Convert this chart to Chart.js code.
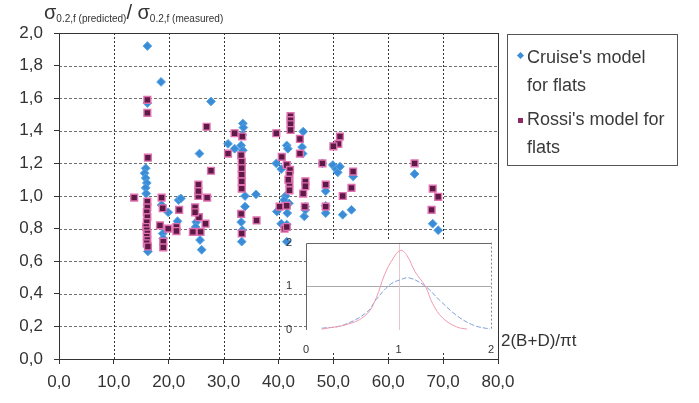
<!DOCTYPE html>
<html><head><meta charset="utf-8">
<script src="https://cdn.jsdelivr.net/npm/chart.js@4.4.0/dist/chart.umd.min.js"></script>
<style>
html,body{margin:0;padding:0;background:#fff;}
#wrap{position:relative;width:699px;height:403px;overflow:hidden;font-family:"Liberation Sans",Arial,sans-serif;color:#333;}
#main{position:absolute;left:0;top:0;}
#inset{position:absolute;left:280px;top:230px;}
#ytitle{position:absolute;left:44px;top:1px;font-size:20px;white-space:nowrap;color:#333;}
#ytitle sub{font-size:10px;vertical-align:-3px;}
#xtitle{position:absolute;left:501px;top:331px;font-size:17px;white-space:nowrap;color:#333;font-family:"Liberation Sans Narrow","Liberation Sans",Arial,sans-serif;}
#legend{position:absolute;left:507px;top:34px;width:171px;height:132px;border:1px solid #555;box-sizing:border-box;}
.lt{position:absolute;left:19px;font-size:18px;line-height:28px;white-space:nowrap;color:#3a3a3a;}
.mk{position:absolute;}
</style></head>
<body>
<div id="wrap">
<canvas id="main" width="699" height="403"></canvas>
<canvas id="inset" width="220" height="125"></canvas>
<div id="ytitle">σ<sub>0.2,f (predicted)</sub>/ σ<sub>0.2,f (measured)</sub></div>
<div id="xtitle">2(B+D)/πt</div>
<div id="legend">
  <div class="mk" style="left:10px;top:18px;width:5px;height:5px;background:#3b8ed6;transform:rotate(45deg);"></div>
  <div class="lt" style="top:8px;">Cruise's model<br>for flats</div>
  <div class="mk" style="left:10px;top:83px;width:5px;height:5px;background:#8a2a60;"></div>
  <div class="lt" style="top:70px;">Rossi's model for<br>flats</div>
</div>
</div>
<script>
// ---- data ----
const xTicks = [0,10,20,30,40,50,60,70,80];
const yTicks = [0,0.2,0.4,0.6,0.8,1.0,1.2,1.4,1.6,1.8,2.0];
const seriesNames = ["Cruise's model for flats", "Rossi's model for flats"];

const cruiseX = [16.1,18.6,16.1,15.8,15.6,15.8,16.0,15.8,15.9,16.1,16.2,
  18.7,19.9,18.9,19.0,21.8,21.6,22.2,
  25.0,24.9,25.7,26.0,25.6,27.7,
  30.8,32.0,33.2,33.5,33.6,33.4,33.5,33.9,33.9,33.2,33.3,33.4,35.9,
  39.6,40.5,41.5,41.7,41.3,39.7,41.0,41.9,41.6,40.5,41.5,41.5,44.5,44.3,44.4,44.9,44.7,44.9,
  48.0,49.9,50.5,50.8,51.2,53.6,48.6,48.6,48.6,51.7,53.3,
  64.8,68.1,69.1];
const cruiseY = [1.92,1.70,1.57,1.17,1.14,1.11,1.08,1.05,1.015,0.69,0.66,
  0.945,0.90,0.77,0.74,0.975,0.845,0.985,
  0.84,0.81,0.73,0.67,1.26,1.58,
  1.32,1.29,1.31,1.445,1.42,1.375,1.28,1.0,0.935,0.84,0.72,0.79,1.01,
  1.20,1.165,1.31,1.29,1.0,0.905,0.975,0.955,0.895,0.83,0.825,0.72,1.395,1.30,1.26,0.935,0.875,0.915,
  1.20,1.19,1.165,1.145,1.18,1.12,1.03,0.94,0.895,0.885,0.915,
  1.135,0.83,0.79];

const rossiX = [16.1,16.1,16.2,13.7,16.1,16.1,16.0,16.1,16.0,15.9,16.0,16.1,16.0,16.1,16.0,16.2,
  18.7,18.9,18.4,19.0,19.0,19.9,
  21.9,21.4,21.4,
  24.4,25.8,24.8,25.4,25.4,25.4,27.0,26.7,27.7,26.9,25.5,24.8,
  32.0,33.4,30.8,33.2,33.3,33.3,33.3,33.3,33.3,33.2,33.3,36.0,
  42.2,42.2,42.2,42.2,39.6,43.9,43.9,40.6,41.5,42.1,42.0,42.0,42.0,41.8,40.2,41.5,41.1,41.5,44.9,44.9,44.5,44.8,
  51.2,50.9,50.0,48.0,53.6,48.6,53.3,51.7,48.6,
  64.8,68.1,69.1,67.9];
const rossiY = [1.59,1.51,1.235,0.99,0.965,0.93,0.90,0.87,0.84,0.81,0.79,0.77,0.75,0.73,0.71,0.69,
  0.99,0.925,0.82,0.72,0.685,0.80,
  0.915,0.81,0.785,
  0.78,0.78,0.93,1.0,1.07,1.03,0.99,0.83,1.155,1.425,0.87,0.90,
  1.385,1.365,1.26,1.25,1.21,1.17,1.13,1.09,1.045,0.89,0.77,0.85,
  1.49,1.465,1.44,1.405,1.385,1.35,1.26,1.24,1.19,1.16,1.13,1.08,1.035,1.10,0.935,0.94,0.80,0.81,1.09,1.06,1.015,0.935,
  1.365,1.32,1.305,1.20,1.15,1.07,1.05,1.0,0.935,
  1.20,1.045,0.995,0.915];

// inset curves
const insetTicks = [0,1,2];
const pinkCurveX = [0.17,0.48,0.66,0.76,0.85,0.94,1.02,1.09,1.18,1.29,1.37,1.48,1.63,1.74];
const pinkCurveY = [0.02,0.15,0.37,0.74,1.27,1.63,1.82,1.71,1.33,1.0,0.6,0.27,0.07,0.02];
const blueCurveX = [0.17,0.40,0.66,0.76,0.91,1.02,1.12,1.29,1.45,1.63,1.81,1.99];
const blueCurveY = [0.04,0.11,0.41,0.70,1.04,1.15,1.19,1.0,0.67,0.33,0.11,0.02];

const pts = (xs, ys) => xs.map((v,i)=>({x:v, y:ys[i]}));
const fmt = v => Number(v).toFixed(1).replace('.', ',');
const tickFont = {family:'"Liberation Sans Narrow", "Liberation Sans", Arial, sans-serif', size:17};

const mainGrid = {
  id:'mainGrid',
  beforeDatasetsDraw(chart){
    const {ctx, chartArea:a, scales:{x,y}} = chart;
    ctx.save();
    ctx.lineWidth = 1;
    ctx.strokeStyle = '#707070'; ctx.setLineDash([3,2]);
    y.ticks.forEach(t=>{
      if (t.value <= 0 || t.value >= 2) return;
      const py = Math.round(y.getPixelForValue(t.value)) + 0.5;
      ctx.beginPath(); ctx.moveTo(a.left, py); ctx.lineTo(a.right, py); ctx.stroke();
    });
    ctx.strokeStyle = '#333'; ctx.setLineDash([2,2]);
    x.ticks.forEach(t=>{
      if (t.value <= 0 || t.value >= 80) return;
      const px = Math.round(x.getPixelForValue(t.value)) + 0.5;
      ctx.beginPath(); ctx.moveTo(px, a.top); ctx.lineTo(px, a.bottom); ctx.stroke();
    });
    ctx.setLineDash([]);
    ctx.strokeStyle = '#333';
    ctx.strokeRect(Math.round(a.left)+0.5, Math.round(a.top)+0.5, Math.round(a.right-a.left), Math.round(a.bottom-a.top));
    ctx.restore();
  }
};

new Chart(document.getElementById('main'), {
  type:'scatter',
  data:{datasets:[
    {label:seriesNames[0], data:pts(cruiseX,cruiseY), pointStyle:'rectRot', pointRadius:4.4,
     backgroundColor:'#3a8cd6', borderColor:'#5aa6e6', borderWidth:1, order:2},
    {label:seriesNames[1], data:pts(rossiX,rossiY), pointStyle:'rect', pointRadius:4.8,
     backgroundColor:'#5e1a46', borderColor:'#e070b0', borderWidth:1.4, order:1}
  ]},
  options:{
    responsive:false, devicePixelRatio:1, animation:false,
    layout:{padding:{left:0, right:201, top:33, bottom:0}},
    plugins:{legend:{display:false}, tooltip:{enabled:false}},
    scales:{
      x:{type:'linear', min:0, max:80,
        afterBuildTicks: s => { s.ticks = xTicks.map(v=>({value:v})); },
        afterFit: s => { s.height = 44; },
        grid:{display:true, drawOnChartArea:false, drawTicks:true, tickLength:5, color:'#333'},
        border:{display:false},
        ticks:{callback:fmt, color:'#333', font:tickFont, padding:8, maxRotation:0}
      },
      y:{type:'linear', min:0, max:2,
        afterBuildTicks: s => { s.ticks = yTicks.map(v=>({value:v})); },
        afterFit: s => { s.width = 59; },
        grid:{display:true, drawOnChartArea:false, drawTicks:true, tickLength:5, color:'#333'},
        border:{display:false},
        ticks:{callback:fmt, color:'#333', font:tickFont, padding:11}
      }
    }
  },
  plugins:[mainGrid]
});

const insetDeco = {
  id:'insetDeco',
  beforeDraw(chart){
    const {ctx, chartArea:a} = chart;
    ctx.save(); ctx.fillStyle = '#fff';
    ctx.fillRect(a.left, a.top-2, a.right-a.left+6, a.bottom-a.top+24);
    ctx.restore();
  },
  beforeDatasetsDraw(chart){
    const {ctx, chartArea:a, scales:{x,y}} = chart;
    ctx.save(); ctx.lineWidth = 1;
    const py = Math.round(y.getPixelForValue(1))+0.5;
    ctx.strokeStyle = '#a8a8a8';
    ctx.beginPath(); ctx.moveTo(a.left, py); ctx.lineTo(a.right, py); ctx.stroke();
    const px = Math.round(x.getPixelForValue(1))+0.5;
    ctx.strokeStyle = '#e8c8cc';
    ctx.beginPath(); ctx.moveTo(px, a.top); ctx.lineTo(px, a.bottom); ctx.stroke();
    ctx.strokeStyle = '#666';
    ctx.beginPath(); ctx.moveTo(Math.round(a.left)+0.5, a.bottom); ctx.lineTo(Math.round(a.left)+0.5, Math.round(a.top)+0.5); ctx.lineTo(a.right, Math.round(a.top)+0.5); ctx.stroke();
    ctx.strokeStyle = '#888'; ctx.setLineDash([2,2]);
    ctx.beginPath(); ctx.moveTo(Math.round(a.right)+0.5, a.top); ctx.lineTo(Math.round(a.right)+0.5, a.bottom); ctx.stroke();
    ctx.restore();
  }
};

new Chart(document.getElementById('inset'), {
  type:'scatter',
  data:{datasets:[
    {data:pts(pinkCurveX,pinkCurveY), showLine:true, pointRadius:0, borderColor:'#f09aae', borderWidth:1, tension:0.4},
    {data:pts(blueCurveX,blueCurveY), showLine:true, pointRadius:0, borderColor:'#7f9ed8', borderWidth:1, borderDash:[5,2], tension:0.4}
  ]},
  options:{
    responsive:false, devicePixelRatio:1, animation:false,
    layout:{padding:{left:0, right:9, top:10, bottom:0}},
    plugins:{legend:{display:false}, tooltip:{enabled:false}},
    scales:{
      x:{type:'linear', min:0, max:2,
        afterBuildTicks: s => { s.ticks = insetTicks.map(v=>({value:v})); },
        afterFit: s => { s.height = 25; },
        grid:{display:false}, border:{display:false},
        ticks:{color:'#333', font:{family:'"Liberation Sans", Arial, sans-serif', size:11}, padding:5, maxRotation:0}
      },
      y:{type:'linear', min:0, max:2,
        afterBuildTicks: s => { s.ticks = insetTicks.map(v=>({value:v})); },
        afterFit: s => { s.width = 26; },
        grid:{display:false}, border:{display:false},
        ticks:{color:'#333', font:{family:'"Liberation Sans", Arial, sans-serif', size:11}, padding:6}
      }
    }
  },
  plugins:[insetDeco]
});
</script>
</body></html>
